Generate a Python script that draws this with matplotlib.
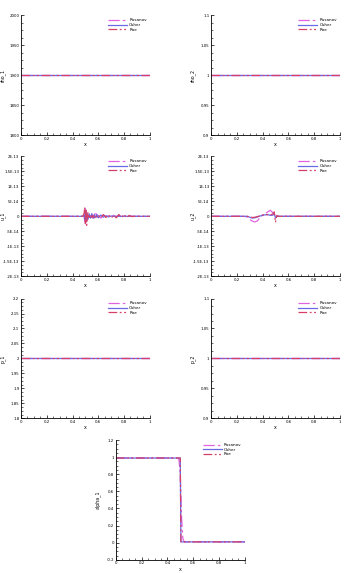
import numpy as np
import matplotlib
matplotlib.use('Agg')
import matplotlib.pyplot as plt
from matplotlib.ticker import MultipleLocator, AutoMinorLocator, FuncFormatter

schemes = ['Rusanov', 'Osher', 'Roe']
colors = {'Rusanov': '#e064e0', 'Osher': '#6a6ae6', 'Roe': '#d4406a'}
styles = {'Rusanov': (0, (9, 2.5, 2, 2.5)), 'Osher': '-', 'Roe': (0, (7, 2, 1.5, 2, 1.5, 2))}

# flat states
x_flat = [0.0, 1.0]
rho1 = [1900.0, 1900.0]
rho2 = [1.0, 1.0]
p1 = [2.0, 2.0]
p2 = [1.0, 1.0]

# u_1 (in units of 1e-14)
x_u1 = [0, 0.48, 0.49, 0.495, 0.50, 0.505, 0.51, 0.52, 0.53, 0.54, 0.55, 0.56, 0.57, 0.58, 0.59,
        0.60, 0.62, 0.64, 0.66, 0.68, 0.70, 0.72, 0.74, 0.76, 0.78, 0.80, 0.82, 0.84, 0.86, 0.88, 1.0]
u1_rus = [0, 0, 0.5, -2.0, 2.5, -1.5, 1.0, -0.5, 0.8, -1.0, 0.6, -0.4, 0.5, 1.5, -0.5,
          0.3, -0.6, 0.4, -0.3, 0.2, -0.4, 0.3, -0.2, 0.4, -0.3, 0.2, -0.1, 0.1, 0, 0, 0]
u1_osh = [0, 0, 0.3, -1.2, 1.5, -1.8, 1.2, -1.0, 0.8, -0.6, 0.9, -0.7, 0.5, -0.4, 0.6,
          -0.5, 0.4, -0.3, 0.2, -0.2, 0.1, 0, 0, 0, 0, 0, 0, 0, 0, 0, 0]
u1_roe = [0, 0, 1.0, 3.0, -2.5, 2.0, -3.0, 1.2, -0.8, 0.6, -0.4, 0.3, -0.5, 0.4, -0.3,
          0.3, -0.5, 0.6, -0.4, 0.5, -0.6, 0.4, -0.5, 0.6, -0.4, 0.6, -0.5, 0.3, -0.1, 0, 0]

# u_2 (in units of 1e-14)
x_u2 = [0, 0.25, 0.28, 0.30, 0.32, 0.34, 0.36, 0.38, 0.40, 0.42, 0.44, 0.46, 0.48, 0.49, 0.50, 0.51, 0.52, 1.0]
u2_rus = [0, 0, -0.2, -1.0, -1.6, -1.9, -1.5, -0.4, 0.5, 0.8, 1.5, 2.0, 1.2, 0.5, 0.2, 0, 0, 0]
u2_osh = [0, 0, 0, -0.3, -0.6, -0.5, -0.2, 0.1, 0.3, 0.5, 0.6, 0.3, 0.4, 1.0, -0.5, 0, 0, 0]
u2_roe = [0, 0, 0, -0.2, -0.4, -0.3, -0.1, 0.2, 0.4, 0.6, 0.5, 0.4, 0.8, 1.5, -2.0, 0.3, 0, 0]

# alpha_1
x_a_sharp = [0, 0.5, 0.505, 1.0]
a_sharp = [0.99, 0.99, 0.01, 0.01]
x_a_rus = [0, 0.48, 0.49, 0.50, 0.51, 0.52, 0.53, 1.0]
a_rus = [0.99, 0.99, 0.97, 0.80, 0.30, 0.05, 0.01, 0.01]

fig = plt.figure(figsize=(3.45, 5.73), dpi=100)

W = 0.373
H = 0.209
panels = [
    ([0.061, 0.764, W, H], 'rho_1', (1800, 2000, 50), {s: (x_flat, rho1) for s in schemes}, None),
    ([0.612, 0.764, W, H], 'rho_2', (0.9, 1.1, 0.05), {s: (x_flat, rho2) for s in schemes}, None),
    ([0.061, 0.518, W, H], 'u_1', (-2e-13, 2e-13, 5e-14),
     {'Rusanov': (x_u1, np.array(u1_rus) * 1e-14), 'Osher': (x_u1, np.array(u1_osh) * 1e-14),
      'Roe': (x_u1, np.array(u1_roe) * 1e-14)}, 'E'),
    ([0.612, 0.518, W, H], 'u_2', (-2e-13, 2e-13, 5e-14),
     {'Rusanov': (x_u2, np.array(u2_rus) * 1e-14), 'Osher': (x_u2, np.array(u2_osh) * 1e-14),
      'Roe': (x_u2, np.array(u2_roe) * 1e-14)}, 'E'),
    ([0.061, 0.270, W, H], 'p_1', (1.8, 2.2, 0.05), {s: (x_flat, p1) for s in schemes}, None),
    ([0.612, 0.270, W, H], 'p_2', (0.9, 1.1, 0.05), {s: (x_flat, p2) for s in schemes}, None),
    ([0.336, 0.023, W, H], 'alpha_1', (-0.2, 1.2, 0.2),
     {'Rusanov': (x_a_rus, a_rus), 'Osher': (x_a_sharp, a_sharp), 'Roe': (x_a_sharp, a_sharp)}, None),
]


def efmt(v, pos):
    if abs(v) < 1e-20:
        return '0'
    s = '%.1E' % v
    m, e = s.split('E')
    m = m.rstrip('0').rstrip('.')
    return '%sE%d' % (m, int(e))


def gfmt(v, pos):
    s = '%.4f' % v
    s = s.rstrip('0').rstrip('.')
    if s == '-0':
        s = '0'
    return s


for rect, name, (lo, hi, step), data, fmt in panels:
    ax = fig.add_axes(rect)
    for s in schemes:
        xs, ys = data[s]
        ax.plot(xs, ys, color=colors[s], linestyle=styles[s], lw=0.9, label=s)
    ax.set_xlim(0, 1)
    ax.set_ylim(lo, hi)
    ax.xaxis.set_major_locator(MultipleLocator(0.2))
    ax.yaxis.set_major_locator(MultipleLocator(step))
    ax.xaxis.set_minor_locator(AutoMinorLocator(4))
    ax.yaxis.set_minor_locator(AutoMinorLocator(4))
    ax.xaxis.set_major_formatter(FuncFormatter(gfmt))
    ax.yaxis.set_major_formatter(FuncFormatter(efmt if fmt == 'E' else gfmt))
    ax.spines['top'].set_visible(False)
    ax.spines['right'].set_visible(False)
    for sp in ('left', 'bottom'):
        ax.spines[sp].set_linewidth(0.6)
    ax.tick_params(which='major', direction='in', length=2.5, width=0.5, labelsize=2.8, pad=1.2)
    ax.tick_params(which='minor', direction='in', length=1.2, width=0.4)
    ax.set_xlabel('x', fontsize=3.4, labelpad=1)
    ax.set_ylabel(name, fontsize=3.4)
    ax.yaxis.set_label_coords(-0.12, 0.5)
    ax.legend(loc='upper right', fontsize=3.0, frameon=False, handlelength=4.5,
              handletextpad=0.6, labelspacing=0.15, borderaxespad=0.3)

fig.savefig('out.png', dpi=100)
